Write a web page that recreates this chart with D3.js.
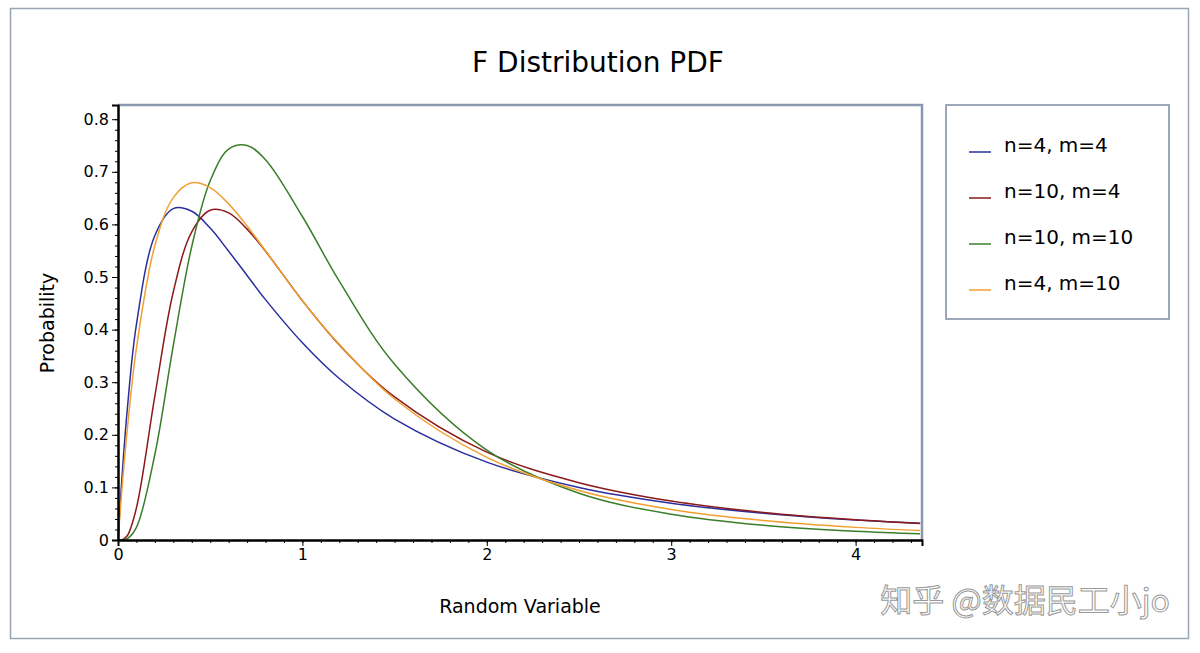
<!DOCTYPE html><html><head><meta charset="utf-8">
<script src="https://cdn.jsdelivr.net/npm/d3@7"></script>
<style>body{margin:0;background:#fff}text{font-family:Verdana,"DejaVu Sans",sans-serif}</style></head><body>
<svg id="c" width="1200" height="653"></svg>
<script>
const xs=[0,0.02,0.05,0.1,0.2,0.3,0.4,0.5,0.6,0.7,0.8,1.0,1.2,1.5,2,2.5,3,3.5,4,4.35];
const s44=[0,0.111,0.247,0.41,0.579,0.630,0.625,0.593,0.549,0.503,0.457,0.375,0.307,0.230,0.148,0.100,0.070,0.051,0.038,0.032];
const s104=[0,0.0003,0.008,0.061,0.274,0.472,0.586,0.627,0.622,0.591,0.549,0.455,0.371,0.272,0.167,0.109,0.074,0.0525,0.0385,0.0315];
const s1010=[0,0.00002,0.0024,0.024,0.163,0.370,0.558,0.683,0.743,0.750,0.723,0.615,0.492,0.334,0.171,0.089,0.049,0.028,0.0165,0.0117];
const s410=[0,0.091,0.209,0.365,0.560,0.651,0.679,0.670,0.639,0.597,0.550,0.455,0.372,0.268,0.157,0.094,0.058,0.037,0.024,0.018];
const names=["n=4, m=4","n=10, m=4","n=10, m=10","n=4, m=10"];
const colors=["#2b2f9e","#8b1a1a","#3a7d2a","#f0a030"];
const series=[s44,s104,s1010,s410];
const xTicks=[0,1,2,3,4], yTicks=[0,0.1,0.2,0.3,0.4,0.5,0.6,0.7,0.8];
const svg=d3.select("#c");
svg.append("rect").attr("x",10.5).attr("y",8.5).attr("width",1178).attr("height",630).attr("fill","none").attr("stroke","#9aa4b4").attr("stroke-width",1.5);
const L=118,R=922,T=105,B=540;
const x=d3.scaleLinear().domain([0,4.36]).range([L,R]);
const y=d3.scaleLinear().domain([0,0.827]).range([B,T]);
svg.append("text").attr("x",598).attr("y",72).attr("text-anchor","middle").attr("font-size",28).text("F Distribution PDF");
svg.append("path").attr("d",`M${L},${T}H${R}V${B}`).attr("fill","none").attr("stroke","#8a96ae").attr("stroke-width",2.5);
const line=d3.line().x((d,i)=>x(xs[i])).y(d=>y(d)).curve(d3.curveCatmullRom.alpha(0.5));
series.forEach((s,k)=>svg.append("path").attr("d",line(s)).attr("fill","none").attr("stroke",colors[k]).attr("stroke-width",1.5));
svg.append("g").attr("transform",`translate(0,${B})`).call(d3.axisBottom(x).tickValues(xTicks).tickFormat(d3.format("d")).tickSizeOuter(0).tickSize(6));
svg.append("g").attr("transform",`translate(0,${B})`).call(d3.axisBottom(x).tickValues(d3.range(0,4.36,0.1)).tickFormat("").tickSize(3).tickSizeOuter(0));
svg.append("g").attr("transform",`translate(${L},0)`).call(d3.axisLeft(y).tickValues(yTicks).tickFormat(d=>d===0?"0":d3.format(".1f")(d)).tickSizeOuter(0).tickSize(6));
svg.append("g").attr("transform",`translate(${L},0)`).call(d3.axisLeft(y).tickValues(d3.range(0,0.82,0.02)).tickFormat("").tickSize(3).tickSizeOuter(0));
svg.selectAll(".tick text").attr("font-size",16).attr("fill","#000");
svg.selectAll(".domain").attr("stroke","#000").attr("stroke-width",2);
svg.append("text").attr("x",520).attr("y",613).attr("text-anchor","middle").attr("font-size",19).text("Random Variable");
svg.append("text").attr("transform","translate(54,323) rotate(-90)").attr("text-anchor","middle").attr("font-size",19).text("Probability");
svg.append("rect").attr("x",946).attr("y",105).attr("width",223).attr("height",214).attr("fill","#fff").attr("stroke","#7c8aa6").attr("stroke-width",1.5);
names.forEach((n,i)=>{const yy=152+i*46;
svg.append("line").attr("x1",969).attr("x2",991).attr("y1",yy).attr("y2",yy).attr("stroke",colors[i]).attr("stroke-width",1.5);
svg.append("text").attr("x",1004).attr("y",yy).attr("font-size",20).text(n);});
svg.append("text").attr("x",1170).attr("y",612).attr("text-anchor","end").attr("font-size",32).attr("fill","#fff").attr("stroke","#999").attr("stroke-width",1).style("font-family","'Noto Sans CJK SC',sans-serif").text("知乎 @数据民工小jo");
</script></body></html>
